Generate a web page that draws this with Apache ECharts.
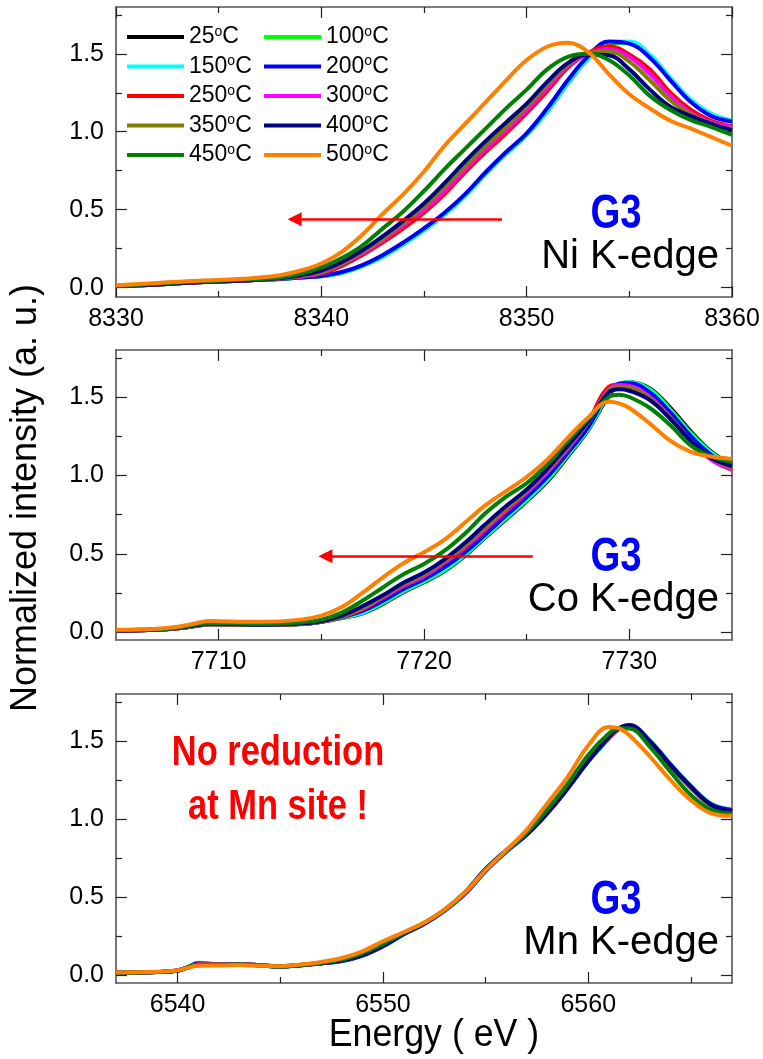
<!DOCTYPE html>
<html><head><meta charset="utf-8">
<script src="https://cdn.jsdelivr.net/npm/echarts@6/dist/echarts.min.js"></script>
<style>html,body{margin:0;padding:0;background:#fff}#c{width:763px;height:1059px}</style>
</head><body><div id="c"></div>
<script>
// ---- series meta
const temps = [25, 100, 150, 200, 250, 300, 350, 400, 450, 500];
const colors = ['#000000','#00ff00','#00ffff','#0000ff','#ff0000','#ff00ff','#808000','#000080','#008000','#ff8000'];

// ---- Ni K-edge
const niE = [8330,8332,8334,8336,8337,8338,8339,8340,8341,8342,8343,8344,8345,8346,8347,8348,8349,8350,8351,8352,8353,8354,8355,8356,8357,8358,8359,8360];
const ni25  = [0.01,0.02,0.035,0.045,0.05,0.055,0.065, 0.075,0.095,0.14,0.20,0.28,0.37,0.47,0.59,0.73,0.86,0.98,1.13,1.31,1.47,1.57,1.57,1.49,1.34,1.20,1.11,1.07];
const ni100 = [0.01,0.02,0.035,0.045,0.05,0.055,0.065, 0.075,0.098,0.143,0.205,0.285,0.375,0.475,0.595,0.735,0.865,0.985,1.14,1.32,1.475,1.572,1.57,1.485,1.335,1.195,1.105,1.068];
const ni150 = [0.01,0.02,0.035,0.045,0.05,0.055,0.065, 0.073,0.093,0.138,0.198,0.278,0.368,0.468,0.588,0.728,0.858,0.978,1.13,1.31,1.47,1.575,1.578,1.495,1.345,1.205,1.115,1.072];
const ni200 = [0.01,0.02,0.035,0.045,0.05,0.055,0.065, 0.075,0.10,0.145,0.21,0.29,0.38,0.48,0.60,0.74,0.87,0.99,1.15,1.33,1.485,1.578,1.565,1.475,1.33,1.19,1.10,1.065];
const ni250 = [0.01,0.02,0.035,0.045,0.05,0.058,0.07, 0.09,0.14,0.21,0.29,0.38,0.48,0.60,0.74,0.87,0.99,1.12,1.26,1.41,1.505,1.548,1.495,1.40,1.25,1.14,1.07,1.035];
const ni300 = [0.01,0.02,0.035,0.045,0.05,0.06,0.072, 0.095,0.15,0.22,0.305,0.40,0.50,0.62,0.76,0.89,1.01,1.14,1.28,1.42,1.50,1.53,1.48,1.37,1.23,1.12,1.06,1.03];
const ni350 = [0.01,0.02,0.035,0.045,0.05,0.06,0.075, 0.10,0.155,0.23,0.315,0.415,0.52,0.645,0.78,0.91,1.03,1.16,1.30,1.43,1.505,1.515,1.45,1.33,1.20,1.11,1.05,1.015];
const ni400 = [0.01,0.02,0.035,0.045,0.05,0.062,0.08, 0.11,0.165,0.24,0.33,0.43,0.54,0.67,0.81,0.94,1.06,1.18,1.32,1.44,1.495,1.49,1.40,1.27,1.16,1.10,1.05,1.01];
const ni450 = [0.01,0.025,0.04,0.05,0.055,0.065,0.09, 0.13,0.19,0.27,0.38,0.49,0.62,0.76,0.89,1.02,1.15,1.27,1.40,1.48,1.50,1.46,1.36,1.23,1.14,1.075,1.03,0.98];
const ni500 = [0.015,0.03,0.045,0.055,0.065,0.08,0.11, 0.155,0.23,0.34,0.475,0.60,0.745,0.91,1.05,1.19,1.33,1.46,1.545,1.57,1.51,1.37,1.24,1.15,1.07,1.02,0.965,0.91];

// ---- Co K-edge
const coE = [7705,7707,7708,7709,7709.5,7710,7712,7714,7715,7716,7717,7718,7719,7720,7721,7722,7723,7724,7725,7726,7727,7728,7729,7729.5,7730,7731,7732,7733,7734,7735];
const co25  = [0.01,0.015,0.025,0.042,0.05,0.05,0.045,0.052,0.066, 0.09,0.12,0.18,0.255,0.318,0.39,0.488,0.605,0.72,0.835,0.96,1.12,1.29, 1.51,1.58,1.595,1.555,1.43,1.28,1.15,1.065];
const co100 = [0.01,0.015,0.025,0.042,0.05,0.05,0.045,0.052,0.066, 0.092,0.123,0.185,0.26,0.322,0.395,0.493,0.61,0.726,0.842,0.968,1.128,1.295, 1.52,1.583,1.595,1.55,1.42,1.27,1.145,1.062];
const co150 = [0.01,0.015,0.025,0.042,0.05,0.05,0.045,0.052,0.066, 0.093,0.125,0.19,0.265,0.328,0.40,0.498,0.615,0.732,0.848,0.975,1.135,1.30, 1.53,1.585,1.595,1.54,1.41,1.26,1.14,1.06];
const co200 = [0.01,0.015,0.025,0.042,0.05,0.05,0.045,0.052,0.066, 0.095,0.135,0.20,0.275,0.338,0.415,0.51,0.625,0.745,0.862,0.99,1.145,1.31, 1.54,1.585,1.59,1.53,1.40,1.25,1.13,1.055];
const co250 = [0.01,0.015,0.025,0.042,0.05,0.05,0.045,0.052,0.066, 0.098,0.145,0.22,0.294,0.357,0.443,0.538,0.655,0.772,0.889,1.02,1.17,1.345, 1.565,1.578,1.57,1.496,1.368,1.22,1.10,1.035];
const co300 = [0.01,0.015,0.025,0.042,0.05,0.05,0.045,0.052,0.066, 0.10,0.15,0.222,0.298,0.36,0.448,0.545,0.662,0.78,0.89,1.02,1.17,1.34, 1.55,1.575,1.57,1.50,1.37,1.22,1.10,1.04];
const co350 = [0.01,0.015,0.025,0.042,0.05,0.05,0.045,0.052,0.067, 0.10,0.155,0.228,0.305,0.37,0.455,0.555,0.672,0.79,0.90,1.03,1.18,1.34, 1.54,1.565,1.56,1.49,1.37,1.22,1.11,1.05];
const co400 = [0.01,0.016,0.028,0.045,0.053,0.053,0.047,0.055,0.07, 0.105,0.165,0.235,0.315,0.38,0.465,0.57,0.69,0.805,0.91,1.04,1.19,1.345, 1.53,1.55,1.54,1.48,1.36,1.22,1.11,1.06];
const co450 = [0.012,0.018,0.03,0.05,0.058,0.058,0.052,0.062,0.08, 0.125,0.20,0.285,0.37,0.435,0.52,0.63,0.76,0.865,0.95,1.07,1.22,1.36, 1.50,1.515,1.50,1.43,1.32,1.19,1.12,1.085];
const co500 = [0.015,0.022,0.035,0.06,0.072,0.07,0.066,0.08,0.105, 0.16,0.25,0.35,0.44,0.51,0.59,0.70,0.81,0.90,0.99,1.10,1.24,1.37, 1.47,1.46,1.43,1.33,1.22,1.15,1.12,1.105];

// ---- Mn K-edge
const mnE = [6537,6539,6540,6540.5,6541,6542,6543,6544,6545,6546,6547,6548,6549,6550,6551,6552,6553,6554,6555,6556,6557,6558,6559,6560,6561,6561.5,6562,6563,6564,6565,6566,6567];
const mn25  = [0.015,0.02,0.03,0.05,0.07,0.068,0.07,0.064,0.056,0.064, 0.076,0.092,0.127,0.186,0.262,0.328,0.413,0.522,0.668,0.79,0.90,1.04,1.20,1.37, 1.515,1.575,1.60,1.50,1.35,1.21,1.095,1.06];
const mn100 = [0.015,0.02,0.03,0.052,0.078,0.07,0.07,0.063,0.055,0.063, 0.075,0.09,0.125,0.185,0.26,0.327,0.412,0.52,0.665,0.79,0.90,1.04,1.20,1.37, 1.515,1.578,1.602,1.50,1.35,1.21,1.095,1.06];
const mn150 = [0.015,0.02,0.03,0.052,0.08,0.07,0.07,0.063,0.055,0.062, 0.075,0.09,0.124,0.184,0.26,0.326,0.412,0.52,0.665,0.788,0.898,1.038,1.198,1.368, 1.515,1.578,1.60,1.50,1.35,1.21,1.095,1.062];
const mn200 = [0.015,0.02,0.03,0.05,0.076,0.07,0.07,0.063,0.056,0.063, 0.075,0.09,0.125,0.185,0.262,0.328,0.413,0.522,0.668,0.79,0.90,1.042,1.20,1.372, 1.518,1.58,1.60,1.498,1.348,1.208,1.092,1.058];
const mn250 = [0.015,0.02,0.03,0.05,0.07,0.068,0.07,0.064,0.057,0.065, 0.077,0.093,0.128,0.188,0.264,0.33,0.415,0.525,0.672,0.795,0.905,1.045,1.205,1.375, 1.52,1.578,1.598,1.49,1.34,1.20,1.085,1.048];
const mn300 = [0.015,0.02,0.03,0.05,0.069,0.068,0.07,0.064,0.057,0.065, 0.078,0.094,0.13,0.19,0.265,0.33,0.415,0.525,0.672,0.795,0.905,1.045,1.205,1.375, 1.52,1.578,1.598,1.49,1.34,1.20,1.085,1.05];
const mn350 = [0.015,0.02,0.03,0.05,0.068,0.068,0.07,0.064,0.058,0.066, 0.079,0.095,0.132,0.192,0.267,0.332,0.417,0.528,0.675,0.797,0.905,1.045,1.205,1.378, 1.522,1.58,1.597,1.488,1.338,1.198,1.083,1.048];
const mn400 = [0.015,0.02,0.03,0.05,0.066,0.066,0.068,0.062,0.056,0.064, 0.077,0.093,0.128,0.188,0.264,0.33,0.418,0.532,0.68,0.80,0.90,1.035,1.195,1.37, 1.525,1.582,1.60,1.495,1.345,1.205,1.09,1.05];
const mn450 = [0.015,0.02,0.03,0.05,0.066,0.066,0.068,0.062,0.056,0.065, 0.08,0.10,0.14,0.20,0.27,0.335,0.418,0.528,0.672,0.795,0.91,1.06,1.225,1.41, 1.547,1.58,1.579,1.462,1.302,1.153,1.057,1.036];
const mn500 = [0.018,0.022,0.032,0.048,0.06,0.062,0.065,0.06,0.058,0.068, 0.085,0.11,0.153,0.217,0.275,0.335,0.42,0.53,0.672,0.80,0.93,1.10,1.27,1.47, 1.589,1.58,1.536,1.40,1.25,1.12,1.036,1.02];

// ---- axes / ticks
const xRanges = [[8330, 8360], [7705, 7735], [6537, 6567]];
const yRanges = [[-0.06, 1.8], [-0.05, 1.8], [-0.05, 1.8]];
const xMajor = [[8330, 8340, 8350, 8360], [7710, 7720, 7730], [6540, 6550, 6560]];
const xMinor = [[8335, 8345, 8355], [7715, 7725], [6545, 6555, 6565]];
const yMajor = [0, 0.5, 1.0, 1.5];
const yMinor = [0.25, 0.75, 1.25, 1.75];
const edgeNames = ['Ni K-edge', 'Co K-edge', 'Mn K-edge'];
const arrows = [[[8348.8, 0.438], [8338.7, 0.438]], [[7725.3, 0.485], [7715.2, 0.485]], null];

const panelE = [niE, coE, mnE];
const panelData = [
  [ni25, ni100, ni150, ni200, ni250, ni300, ni350, ni400, ni450, ni500],
  [co25, co100, co150, co200, co250, co300, co350, co400, co450, co500],
  [mn25, mn100, mn150, mn200, mn250, mn300, mn350, mn400, mn450, mn500]
];

const FONT = '"Liberation Sans", Arial, sans-serif';
const grids = [
  { left: 116, top: 7, width: 616, height: 290 },
  { left: 116, top: 350, width: 616, height: 290 },
  { left: 116, top: 694, width: 616, height: 289 }
];
const names = temps.map(t => t + '°C');

const xAxis = [], yAxis = [], series = [];
grids.forEach((g, p) => {
  const [xmin, xmax] = xRanges[p];
  const [ymin, ymax] = yRanges[p];
  const frame = { show: true, onZero: false, lineStyle: { color: '#555', width: 1.6 } };
  const noLine = { show: false, onZero: false };
  const mk = (pos, line, ticks, len, label) => ({
    type: 'value', gridIndex: p, position: pos, min: xmin, max: xmax,
    axisLine: line, splitLine: { show: false },
    axisTick: { show: true, inside: true, length: len, customValues: ticks, lineStyle: { color: '#222', width: 1.2 } },
    axisLabel: label ? { show: true, customValues: ticks, formatter: v => String(v), fontSize: 25, color: '#000', fontFamily: FONT, margin: 10 } : { show: false }
  });
  xAxis.push(mk('bottom', frame, xMajor[p], 11, true));
  xAxis.push(mk('top', frame, xMajor[p], 11, false));
  xAxis.push(mk('bottom', noLine, xMinor[p], 6, false));
  xAxis.push(mk('top', noLine, xMinor[p], 6, false));
  const mky = (pos, line, ticks, len, label) => ({
    type: 'value', gridIndex: p, position: pos, min: ymin, max: ymax,
    axisLine: line, splitLine: { show: false },
    axisTick: { show: true, inside: true, length: len, customValues: ticks, lineStyle: { color: '#222', width: 1.2 } },
    axisLabel: label ? { show: true, customValues: ticks, formatter: v => v.toFixed(1), fontSize: 25, color: '#000', fontFamily: FONT, margin: 12 } : { show: false }
  });
  yAxis.push(mky('left', frame, yMajor, 11, true));
  yAxis.push(mky('right', frame, yMajor, 11, false));
  yAxis.push(mky('left', noLine, yMinor, 6, false));
  yAxis.push(mky('right', noLine, yMinor, 6, false));

  panelData[p].forEach((vals, i) => {
    const s = {
      type: 'line', name: names[i], xAxisIndex: 4 * p, yAxisIndex: 4 * p,
      data: panelE[p].map((e, k) => [e, vals[k]]),
      smooth: 0.4, symbol: 'none', showSymbol: false,
      lineStyle: { width: 4, color: colors[i] }, itemStyle: { color: colors[i] },
      emphasis: { disabled: true }, silent: true
    };
    if (i === temps.length - 1 && arrows[p]) {
      s.markLine = {
        silent: true, symbol: ['none', 'triangle'], symbolSize: 14,
        label: { show: false }, emphasis: { disabled: true },
        lineStyle: { color: '#ff0000', width: 2.5, type: 'solid' },
        itemStyle: { color: '#ff0000' },
        data: [[{ coord: arrows[p][0] }, { coord: arrows[p][1] }]]
      };
    }
    series.push(s);
  });
});

const legendCommon = {
  orient: 'vertical', itemWidth: 57, itemHeight: 4, itemGap: 6, icon: 'rect', selectedMode: false,
  top: 25, padding: 0,
  formatter: n => '{a|' + n.replace('°C', '') + '}{b|o}{a|C}',
  textStyle: {
    color: '#000', fontFamily: FONT, fontSize: 23,
    rich: { a: { fontSize: 23, fontFamily: FONT, color: '#000', lineHeight: 24 },
            b: { fontSize: 14, fontFamily: FONT, color: '#000', verticalAlign: 'top', lineHeight: 14 } }
  }
};
const legend = [
  Object.assign({}, legendCommon, { left: 127, data: names.filter((n, i) => i % 2 === 0) }),
  Object.assign({}, legendCommon, { left: 264, data: names.filter((n, i) => i % 2 === 1) })
];

const graphic = [];
grids.forEach((g, p) => {
  const bottom = g.top + g.height;
  graphic.push({ type: 'text', x: 616, y: bottom - 82, scaleX: 0.8, silent: true,
    style: { text: 'G3', font: 'bold 48px ' + FONT, fill: '#0000ff', textAlign: 'center', textVerticalAlign: 'middle', verticalAlign: 'middle' } });
  graphic.push({ type: 'text', x: 719, y: bottom - 40, silent: true,
    style: { text: edgeNames[p], font: '40px ' + FONT, fill: '#000', textAlign: 'right', textVerticalAlign: 'middle', verticalAlign: 'middle' } });
});
graphic.push({ type: 'text', x: 278, y: 753, scaleX: 0.82, silent: true,
  style: { text: 'No reduction', font: 'bold 42px ' + FONT, fill: '#ff0000', textAlign: 'center', textVerticalAlign: 'middle', verticalAlign: 'middle' } });
graphic.push({ type: 'text', x: 278, y: 807, scaleX: 0.82, silent: true,
  style: { text: 'at Mn site !', font: 'bold 42px ' + FONT, fill: '#ff0000', textAlign: 'center', textVerticalAlign: 'middle', verticalAlign: 'middle' } });
graphic.push({ type: 'text', x: 26, y: 498, rotation: Math.PI / 2, silent: true,
  style: { text: 'Normalized intensity (a. u.)', font: '36px ' + FONT, fill: '#000', textAlign: 'center', textVerticalAlign: 'middle', verticalAlign: 'middle' } });
graphic.push({ type: 'text', x: 434, y: 1036, scaleX: 0.94, silent: true,
  style: { text: 'Energy ( eV )', font: '38px ' + FONT, fill: '#000', textAlign: 'center', textVerticalAlign: 'middle', verticalAlign: 'middle' } });

const chart = echarts.init(document.getElementById('c'), null, { renderer: 'canvas' });
chart.setOption({
  animation: false,
  backgroundColor: '#ffffff',
  grid: grids,
  xAxis, yAxis, series, legend, graphic
});
</script>
</body></html>
